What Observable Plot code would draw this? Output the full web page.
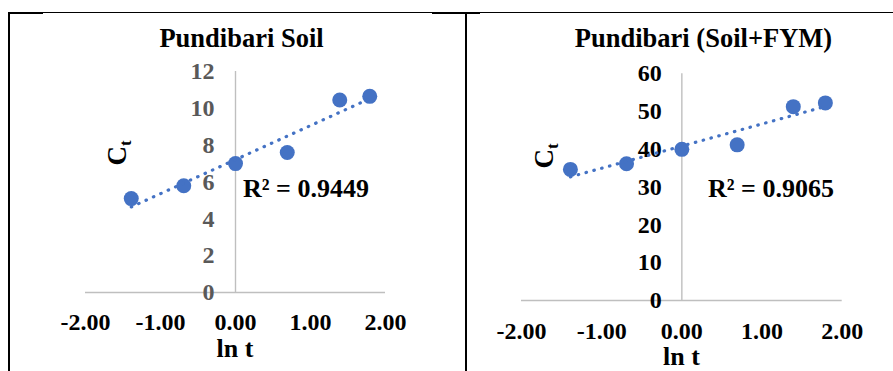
<!DOCTYPE html>
<html>
<head>
<meta charset="utf-8">
<script src="https://cdn.jsdelivr.net/npm/d3@7"></script>
<script src="https://cdn.jsdelivr.net/npm/@observablehq/plot@0.6"></script>
<style>
  body { margin: 0; background: #fff; }
  #wrap { position: relative; width: 893px; height: 371px; background: #fff; overflow: hidden; }
  #wrap > * { position: absolute; }
  .bar { background: #000; }
</style>
</head>
<body>
<div id="wrap"></div>
<script>
// ---- data ----
const lnT = [-1.39, -0.69, 0.00, 0.69, 1.39, 1.79];
const soilCt = [5.1, 5.8, 7.0, 7.6, 10.45, 10.65];
const fymCt = [34.7, 36.2, 40.0, 41.2, 51.3, 52.3];
const xTicks = [-2, -1, 0, 1, 2];
const soilYTicks = [0, 2, 4, 6, 8, 10, 12];
const fymYTicks = [0, 10, 20, 30, 40, 50, 60];
const titles = ["Pundibari Soil", "Pundibari (Soil+FYM)"];
const r2Labels = ["R² = 0.9449", "R² = 0.9065"];
const xLabel = "ln t";

const FONT = "'Liberation Serif', 'Times New Roman', Times, serif";
const BLUE = "#4472C4";
const AXIS_GREY = "#bfbfbf";

const wrap = document.getElementById("wrap");

function panel({values, yTicks, yMax, width, height, mL, mR, mT, mB, yLabelColor, dxY, padX}) {
  const data = lnT.map((x, i) => ({x, y: values[i]}));
  return Plot.plot({
    width, height,
    marginLeft: mL, marginRight: mR, marginTop: mT, marginBottom: mB,
    style: {fontFamily: FONT, fontWeight: "bold", fontSize: "24px", background: "transparent", overflow: "visible"},
    x: {domain: [-2, 2], axis: null},
    y: {domain: [0, yMax], axis: null},
    marks: [
      Plot.ruleY([0], {stroke: AXIS_GREY, strokeWidth: 1.4}),
      Plot.ruleX([0], {stroke: AXIS_GREY, strokeWidth: 1.4}),
      Plot.axisX(xTicks, {tickSize: 0, tickPadding: padX, tickFormat: d => d.toFixed(2), fill: "#000", fontSize: 24, label: null}),
      Plot.text(yTicks, {x: 0, y: d => d, dx: dxY, textAnchor: "end", fill: yLabelColor, fontSize: 24}),
      Plot.dot(data, {x: "x", y: "y", r: 7.5, fill: BLUE}),
      Plot.linearRegressionY(data, {x: "x", y: "y", stroke: BLUE, strokeWidth: 3.2, strokeDasharray: "0.5,7.6", strokeLinecap: "round", ci: 0})
    ]
  });
}

const left = panel({values: soilCt, yTicks: soilYTicks, yMax: 12, width: 460, height: 371,
  mL: 85, mR: 75, mT: 71, mB: 79, yLabelColor: "#595959", dxY: -21, padX: 20});
left.style.left = "0px"; left.style.top = "0px";
wrap.appendChild(left);

const right = panel({values: fymCt, yTicks: fymYTicks, yMax: 60, width: 433, height: 371,
  mL: 61, mR: 51.3, mT: 73.3, mB: 71, yLabelColor: "#000", dxY: -20, padX: 21});
right.style.left = "460px"; right.style.top = "0px";
wrap.appendChild(right);

// table borders
function bar(x, y, w, h) {
  const d = document.createElement("div");
  d.className = "bar";
  Object.assign(d.style, {left: x + "px", top: y + "px", width: w + "px", height: h + "px"});
  wrap.appendChild(d);
}
bar(8, 12, 885, 1);
bar(8, 12, 35, 2);
bar(432, 12, 48, 2);
bar(8, 12, 2, 359);
bar(465, 12, 2, 359);

// annotation text overlay
const svg = d3.select(wrap).append("svg")
  .attr("width", 893).attr("height", 371)
  .style("left", "0px").style("top", "0px")
  .style("font-family", FONT).style("font-weight", "bold").style("pointer-events", "none");

function txt(x, y, s, size, anchor = "middle") {
  return svg.append("text").attr("x", x).attr("y", y).attr("text-anchor", anchor)
    .attr("font-size", size).attr("fill", "#000").text(s);
}
txt(241.5, 46.5, titles[0], 26.5);
txt(703.5, 46.5, titles[1], 26.5);
txt(235, 357, xLabel, 26);
txt(681.5, 365, xLabel, 26);
txt(243, 197, r2Labels[0], 26, "start");
txt(708, 197, r2Labels[1], 26, "start");

function ct(x, y) {
  const t = svg.append("text").attr("transform", `translate(${x},${y}) rotate(-90)`)
    .attr("text-anchor", "middle").attr("font-size", 27).attr("fill", "#000");
  t.append("tspan").text("C");
  t.append("tspan").attr("font-size", 17).attr("dy", 5).text("t");
}
ct(126, 153);
ct(553, 156);
</script>
</body>
</html>
